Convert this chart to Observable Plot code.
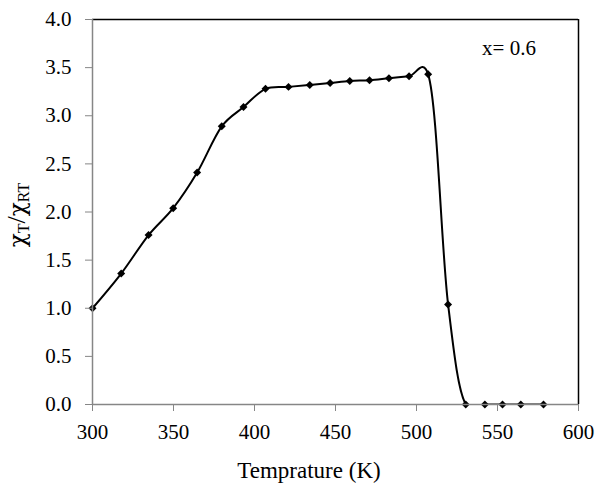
<!DOCTYPE html>
<html><head><meta charset="utf-8">
<script src="https://cdn.jsdelivr.net/npm/d3@7"></script>
<script src="https://cdn.jsdelivr.net/npm/@observablehq/plot@0.6"></script>
<style>body{margin:0;background:#fff} #chart{width:596px;height:488px;position:relative}</style>
</head><body><div id="chart"></div>
<script>
// Data
const temperature = [300, 317.7, 334.6, 349.8, 364.6, 379.8, 393.2, 406.8, 421.0, 434.1, 446.7, 458.8, 471.0, 483.0, 495.4, 507.2, 519.5, 530.4, 542.2, 553.1, 564.4, 578.4];
const ratio = [1.00, 1.36, 1.76, 2.04, 2.41, 2.89, 3.09, 3.28, 3.30, 3.32, 3.34, 3.36, 3.37, 3.39, 3.41, 3.43, 1.04, 0, 0, 0, 0, 0];
const xTicks = [300, 350, 400, 450, 500, 550, 600];
const yTicks = [0, 0.5, 1.0, 1.5, 2.0, 2.5, 3.0, 3.5, 4.0];
const annotationText = ["x= 0.6"];
const annotationX = [540.5];
const annotationY = [3.70];
const xLabel = "Temprature (K)";

const data = temperature.map((t, i) => ({t, r: ratio[i]}));
const annot = annotationText.map((s, i) => ({s, x: annotationX[i], y: annotationY[i]}));
const serif = "'Liberation Serif', 'Times New Roman', serif";
const grey = "#868686";

const chart = Plot.plot({
  width: 596, height: 488,
  marginLeft: 92, marginRight: 18, marginTop: 19, marginBottom: 84,
  style: {fontFamily: serif, fontSize: "17.5px", color: "#000", background: "#fff", overflow: "visible"},
  x: {domain: [300, 600]},
  y: {domain: [0, 4]},
  marks: [
    Plot.ruleY([4], {stroke: "#000", strokeWidth: 1.5}),
    Plot.ruleX([600], {stroke: "#000", strokeWidth: 1.5}),
    Plot.line(data, {x: "t", y: "r", curve: "catmull-rom", tension: 0.2, stroke: "#000", strokeWidth: 2, clip: true}),
    Plot.dot(data, {x: "t", y: "r", symbol: "diamond2", fill: "#000", stroke: "none", r: 3.6}),
    Plot.axisX({ticks: xTicks, tickSize: 7, tickPadding: 13, stroke: grey, tickFormat: d => String(d), label: null, fill: "#000", fontSize: 21, fontFamily: serif}),
    Plot.axisY({ticks: yTicks, tickSize: 7, tickPadding: 14, stroke: grey, tickFormat: d => d.toFixed(1), label: null, fill: "#000", fontSize: 21, fontFamily: serif}),
    Plot.ruleX([300], {stroke: grey, strokeWidth: 1.5}),
    Plot.ruleY([0], {stroke: grey, strokeWidth: 1.5}),
    Plot.text(annot, {x: "x", y: "y", text: "s", textAnchor: "start", lineAnchor: "middle", fill: "#000", fontSize: 21, fontFamily: serif})
  ]
});
document.getElementById("chart").append(chart);

const svg = d3.select(chart);
svg.append("text")
  .attr("x", 309).attr("y", 478)
  .attr("text-anchor", "middle")
  .attr("font-family", serif).attr("font-size", 23).attr("fill", "#000")
  .text(xLabel);

const yl = svg.append("text")
  .attr("transform", "translate(25,215) rotate(-90)")
  .attr("text-anchor", "middle")
  .attr("font-family", serif).attr("font-size", 26).attr("fill", "#000");
yl.append("tspan").attr("font-family", "'DejaVu Serif', serif").attr("font-size", 23).text("χ");
yl.append("tspan").attr("font-size", 16).attr("dy", 4).text("T");
yl.append("tspan").attr("dy", -4).text("/");
yl.append("tspan").attr("font-family", "'DejaVu Serif', serif").attr("font-size", 23).text("χ");
yl.append("tspan").attr("font-size", 16).attr("dy", 4).text("RT");
</script>
</body></html>
